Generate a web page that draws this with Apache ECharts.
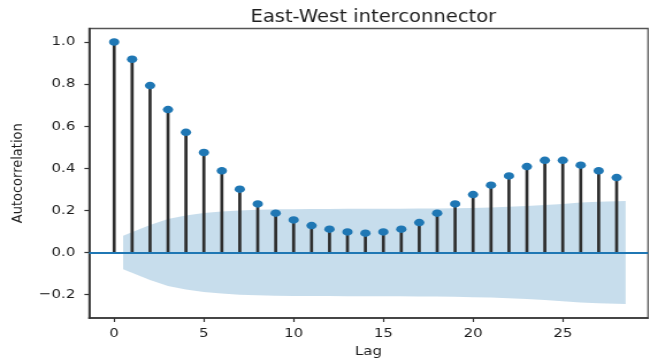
<!DOCTYPE html>
<html>
<head>
<meta charset="utf-8">
<script src="https://cdn.jsdelivr.net/npm/echarts@6/dist/echarts.min.js"></script>
<style>
  html, body { margin: 0; padding: 0; background: #fff; overflow: hidden; }
  /* The figure is drawn narrower and widened horizontally, as in the exported image */
  #chart { width: 565px; height: 363px; transform: scaleX(1.1504); transform-origin: 0 0; }
</style>
</head>
<body>
<div id="chart"></div>
<script>
// Autocorrelation by lag
const lags = [0, 1, 2, 3, 4, 5, 6, 7, 8, 9, 10, 11, 12, 13, 14, 15, 16, 17, 18, 19, 20, 21, 22, 23, 24, 25, 26, 27, 28];
const acfValues = [1.0, 0.918, 0.793, 0.679, 0.571, 0.475, 0.388, 0.301, 0.231, 0.187, 0.155, 0.128, 0.111, 0.098, 0.092, 0.098, 0.111, 0.142, 0.187, 0.231, 0.275, 0.320, 0.364, 0.408, 0.438, 0.438, 0.415, 0.388, 0.356];

// Confidence band edges (lags 1..28, ends widened by half a lag)
const bandLags = [0.5, 2, 3, 4, 5, 6, 7, 8, 9, 10, 11, 12, 13, 14, 15, 16, 17, 18, 19, 20, 21, 22, 23, 24, 25, 26, 27, 28.5];
const bandUpper = [0.080, 0.131, 0.159, 0.176, 0.188, 0.195, 0.200, 0.203, 0.205, 0.206, 0.207, 0.207, 0.208, 0.208, 0.208, 0.208, 0.209, 0.209, 0.210, 0.212, 0.214, 0.217, 0.221, 0.226, 0.231, 0.237, 0.241, 0.245];
const bandLower = [-0.080, -0.131, -0.159, -0.176, -0.188, -0.195, -0.200, -0.203, -0.205, -0.206, -0.207, -0.207, -0.208, -0.208, -0.208, -0.208, -0.209, -0.209, -0.210, -0.212, -0.214, -0.217, -0.221, -0.226, -0.231, -0.237, -0.241, -0.245];

// Axis ticks
const xTicks = [0, 5, 10, 15, 20, 25];
const yTicks = [-0.2, 0.0, 0.2, 0.4, 0.6, 0.8, 1.0];

const FONT = 'DejaVu Sans';
const TEXT = '#1e1e1e';
const BLUE = '#1f77b4';

const chart = echarts.init(document.getElementById('chart'), null, { renderer: 'canvas' });

chart.setOption({
  animation: false,
  backgroundColor: '#fff',
  title: {
    text: 'East-West interconnector',
    left: 319.5,
    textAlign: 'center',
    top: 4,
    textStyle: { fontFamily: FONT, fontSize: 17, fontWeight: 'normal', color: TEXT }
  },
  grid: {
    left: 77.4, right: 1.7, top: 28.5, bottom: 44.7,
    show: true, borderColor: '#555', borderWidth: 1.3, backgroundColor: 'transparent'
  },
  xAxis: {
    type: 'value', min: -1.4, max: 29.75,
    splitLine: { show: false },
    axisLine: { show: true, onZero: false, lineStyle: { color: '#333', width: 1.7 } },
    axisTick: { show: true, customValues: xTicks, length: 4, lineStyle: { color: '#333', width: 1.2 } },
    axisLabel: {
      customValues: xTicks, margin: 9, color: TEXT, fontFamily: FONT, fontSize: 13,
      formatter: v => String(v)
    },
    name: 'Lag', nameLocation: 'middle', nameGap: 27,
    nameTextStyle: { fontFamily: FONT, fontSize: 13, color: TEXT }
  },
  yAxis: {
    type: 'value', min: -0.311, max: 1.064,
    splitLine: { show: false },
    axisLine: { show: true, onZero: false, lineStyle: { color: '#333', width: 1.7 } },
    axisTick: { show: true, customValues: yTicks, length: 4, lineStyle: { color: '#333', width: 1.2 } },
    axisLabel: {
      customValues: yTicks, margin: 12, color: TEXT, fontFamily: FONT, fontSize: 13,
      formatter: v => (v < 0 ? '\u2212' + Math.abs(v).toFixed(1) : v.toFixed(1))
    },
    name: 'Autocorrelation', nameLocation: 'middle', nameGap: 55,
    nameTextStyle: { fontFamily: FONT, fontSize: 13, color: TEXT }
  },
  series: [
    {
      // shaded confidence band
      type: 'custom',
      silent: true,
      z: 1,
      data: [[0, 0]],
      renderItem: (params, api) => {
        const top = bandLags.map((x, i) => api.coord([x, bandUpper[i]]));
        const bottom = bandLags.map((x, i) => api.coord([x, bandLower[i]])).reverse();
        return {
          type: 'polygon',
          shape: { points: top.concat(bottom) },
          style: { fill: 'rgba(31,119,180,0.25)' }
        };
      }
    },
    {
      // stems from zero to each autocorrelation
      type: 'custom',
      silent: true,
      z: 2,
      data: lags.map((l, i) => [l, acfValues[i]]),
      encode: { x: 0, y: 1 },
      renderItem: (params, api) => {
        const p0 = api.coord([api.value(0), 0]);
        const p1 = api.coord([api.value(0), api.value(1)]);
        return {
          type: 'line',
          shape: { x1: p0[0], y1: p0[1], x2: p1[0], y2: p1[1] },
          style: { stroke: '#2e2e2e', lineWidth: 2.7 }
        };
      }
    },
    {
      type: 'scatter',
      z: 4,
      symbol: 'circle',
      symbolSize: [9, 7.5],
      itemStyle: { color: BLUE, opacity: 1 },
      data: lags.map((l, i) => [l, acfValues[i]]),
      markLine: {
        silent: true,
        symbol: 'none',
        z: 3,
        label: { show: false },
        lineStyle: { color: BLUE, width: 2, type: 'solid', opacity: 1 },
        data: [{ yAxis: 0 }]
      }
    }
  ]
});
</script>
</body>
</html>
